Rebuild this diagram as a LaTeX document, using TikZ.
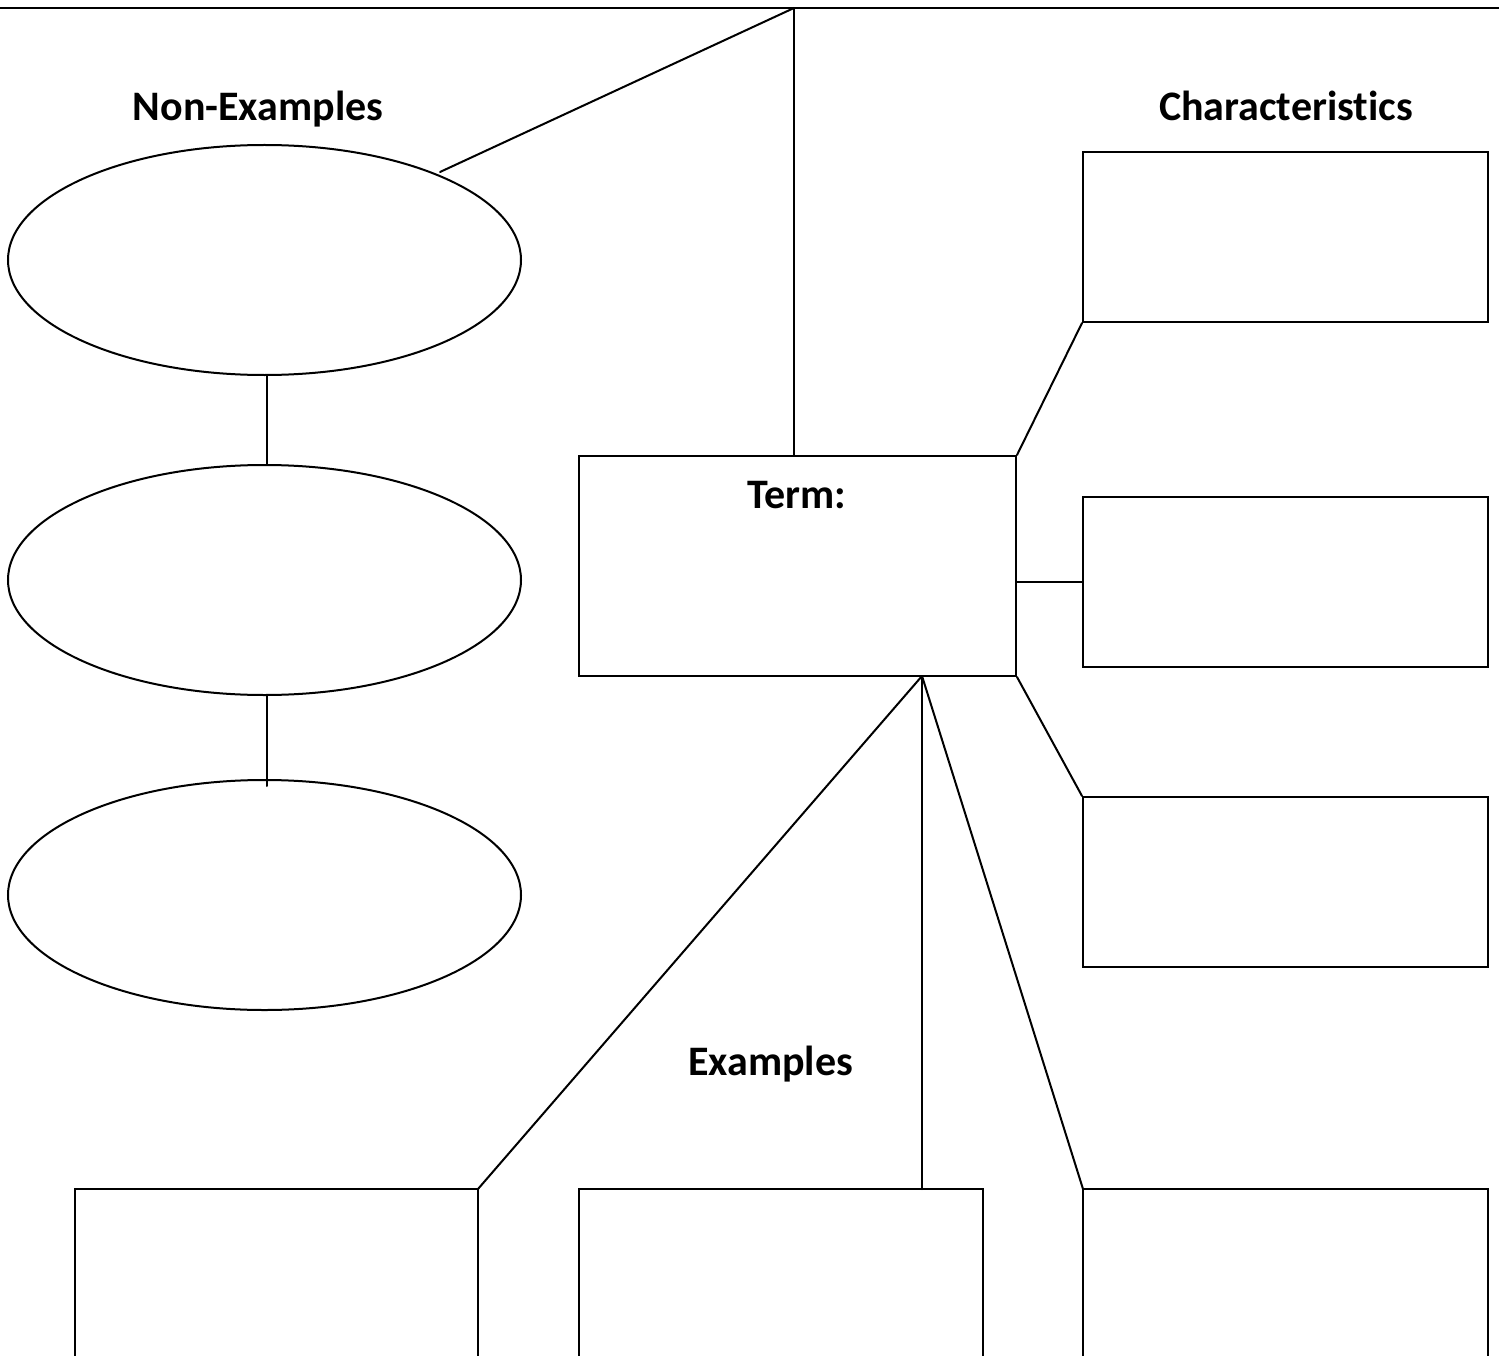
\documentclass[tikz,border=0pt]{standalone}
\usepackage{fontspec}
\setmainfont{Carlito}[Ligatures=NoCommon]
\usetikzlibrary{shapes.geometric}
\begin{document}
\begin{tikzpicture}[x=1pt,y=-1pt,
  lw/.style={line width=2pt, line cap=round, line join=miter},
  oval/.style={lw, draw, ellipse, inner sep=0pt, minimum width=513pt, minimum height=230pt},
  boxnode/.style={lw, draw, rectangle, inner sep=0pt},
  heading/.style={font=\fontsize{42}{50}\selectfont\bfseries, anchor=base, inner sep=0pt}]
\useasboundingbox (0,0) rectangle (1499,1356);
% top line
\coordinate (tl) at (0,8);
\coordinate (tr) at (1499,8);
\coordinate (top) at (794,8);
\draw[lw] (tl) -- (tr);
% ellipses
\node[oval] (e1) at (264.5,260) {};
\node[oval] (e2) at (264.5,580) {};
\node[oval] (e3) at (264.5,895) {};
% term box
\node[boxnode, minimum width=437pt, minimum height=220pt] (term) at (797.5,566) {};
\node[heading] (termlbl) at (797,508) {Term:};
% characteristic boxes
\node[boxnode, minimum width=405pt, minimum height=170pt] (c1) at (1285.5,237) {};
\node[boxnode, minimum width=405pt, minimum height=170pt] (c2) at (1285.5,581.5) {};
\node[boxnode, minimum width=405pt, minimum height=170pt] (c3) at (1285.5,882) {};
% bottom boxes (cut at page bottom)
\coordinate (aBL) at (75,1360);  \coordinate (aTL) at (75,1189);
\coordinate (aTR) at (478,1189); \coordinate (aBR) at (478,1360);
\coordinate (bBL) at (579,1360); \coordinate (bTL) at (579,1189);
\coordinate (bTR) at (983,1189); \coordinate (bBR) at (983,1360);
\coordinate (cBL) at (1083,1360); \coordinate (cTL) at (1083,1189);
\coordinate (cTR) at (1488,1189); \coordinate (cBR) at (1488,1360);
\draw[lw, line cap=butt] (aBL) -- (aTL) -- (aTR) -- (aBR);
\draw[lw, line cap=butt] (bBL) -- (bTL) -- (bTR) -- (bBR);
\draw[lw, line cap=butt] (cBL) -- (cTL) -- (cTR) -- (cBR);
% headings
\node[heading] (nonex) at (258,121) {Non-Examples};
\node[heading] (chars) at (1286,121) {Characteristics};
\node[heading] (exs) at (770.5,1075.5) {Examples};
% connectors
\coordinate (e1pt) at (440,172);
\draw[lw] (top) -- (e1pt);
\draw[lw] (top) -- (term.north -| top);
\draw[lw] ([xshift=2.5pt]e1.south) -- ([xshift=2.5pt]e2.north);
\draw[lw] ([xshift=2.5pt]e2.south) -- ([xshift=2.5pt,yshift=-7pt]e3.north);
\draw[lw] (term.north east) -- (c1.south west);
\draw[lw] (term.east |- c2.west) -- (c2.west);
\draw[lw] (term.south east) -- (c3.north west);
\coordinate (hub) at (922,676);
\draw[lw] (hub) -- (aTR);
\draw[lw] (hub) -- (hub |- bTR);
\draw[lw] (hub) -- (cTL);
\end{tikzpicture}
\end{document}
